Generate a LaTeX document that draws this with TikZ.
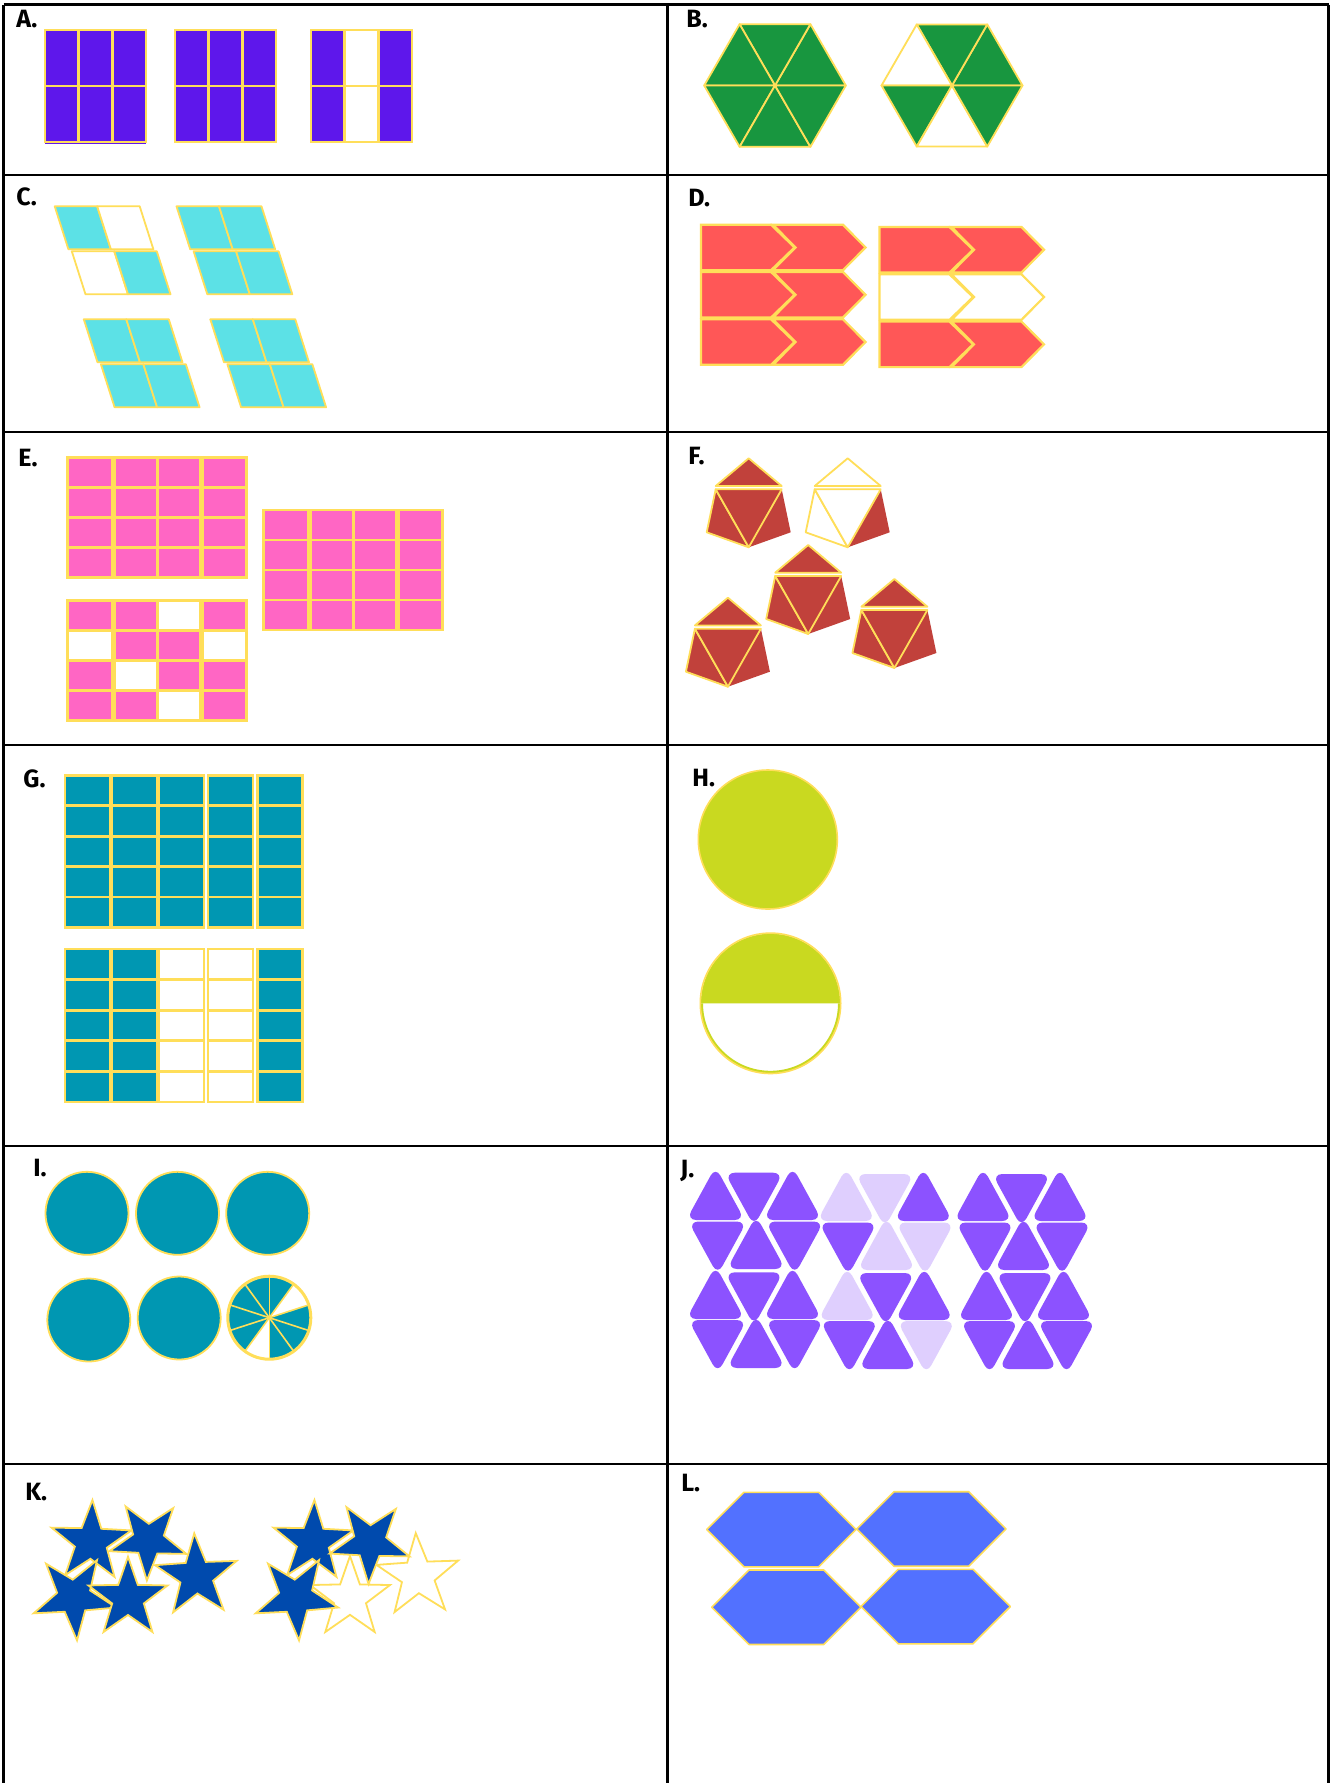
\documentclass[tikz,border=0pt]{standalone}
\usepackage{fontspec}
\setmainfont{Fira Sans}
\definecolor{ylw}{HTML}{FFDE59}
\definecolor{apurple}{HTML}{5E17EB}
\definecolor{bgreen}{HTML}{18963F}
\definecolor{ccyan}{HTML}{5CE1E6}
\definecolor{dred}{HTML}{FF5757}
\definecolor{epink}{HTML}{FF66C4}
\definecolor{fred}{HTML}{C1413B}
\definecolor{gteal}{HTML}{0097B2}
\definecolor{hlime}{HTML}{C9D920}
\definecolor{jpurple}{HTML}{8C52FF}
\definecolor{jlight}{HTML}{DFCFFE}
\definecolor{kblue}{HTML}{004AAD}
\definecolor{lblue}{HTML}{5271FF}
\tikzset{
 gridline/.style={black, line width=1.1pt},
 lab/.style={font=\fontsize{12.5}{13}\selectfont\bfseries, inner sep=0pt, anchor=north west},
 acell/.style={fill=apurple, draw=ylw, line width=1.3pt},
 btri/.style={draw=ylw, line width=0.9pt, line join=round},
 cparst/.style={draw=ylw, line width=0.9pt, line join=round},
 dshape/.style={draw=ylw, line width=1.1pt},
 ecell/.style={fill=epink, draw=ylw, line width=1.4pt},
 fst/.style={draw=ylw, line width=0.9pt, line join=round},
 gcell/.style={fill=gteal, draw=ylw, line width=1.4pt},
 hcirc/.style={fill=hlime, draw=ylw, line width=0.8pt},
 icirc/.style={fill=gteal, draw=ylw, line width=0.9pt},
 jshape/.style={rounded corners=5pt},
 kfill/.style={fill=kblue, draw=ylw, line width=0.9pt},
 kwhite/.style={fill=white, draw=ylw, line width=0.9pt},
 lhex/.style={fill=lblue, draw=ylw, line width=0.8pt, line join=round},
}
\newcommand{\btri}[5]{\draw[btri, fill=#5] (#1,#2) -- ({#1+#3*cos(60*#4)},{#2-#3*sin(60*#4)}) -- ({#1+#3*cos(60*(#4+1))},{#2-#3*sin(60*(#4+1))}) -- cycle;}
\newcommand{\cpar}[3]{\draw[cparst, fill=#3] (#1,#2) -- ++(42.5,0) -- ++(13.7,43) -- ++(-42.5,0) -- cycle;}
\newcommand{\dpent}[3]{\draw[dshape, fill=#3] (#1,#2) -- ++(70,0) -- ++(23.5,22.75) -- ++(-23.5,22.75) -- ++(-70,0) -- cycle;}
\newcommand{\dchev}[3]{\draw[dshape, fill=#3] ({#1+72},#2) -- ++(70,0) -- ++(22.5,22.75) -- ++(-22.5,22.75) -- ++(-70,0) -- ++(22.5,-22.75) -- cycle;}
\newcommand{\fdie}[3]{%
 \fill[fred] ({#1+33},{#2+31}) -- ({#1+42},{#2+74}) -- ({#1},{#2+89}) -- cycle;
 \draw[fst, fill=#3] ({#1-33},{#2+31}) -- ({#1},{#2+89}) -- ({#1-42},{#2+74}) -- cycle;
 \draw[fst, fill=#3] ({#1-33},{#2+31}) -- ({#1+33},{#2+31}) -- ({#1},{#2+89}) -- cycle;
 \draw[fst, fill=#3] ({#1},{#2}) -- ({#1+33},{#2+27.7}) -- ({#1-33},{#2+27.7}) -- cycle;}
\newcommand{\jup}[3]{\fill[jshape, #3] ({#1},{#2}) -- ({#1+29.2},{#2}) -- ({#1},{#2-53.3}) -- ({#1-29.2},{#2}) -- cycle;}
\newcommand{\jdown}[3]{\fill[jshape, #3] ({#1},{#2}) -- ({#1+29.2},{#2}) -- ({#1},{#2+53.3}) -- ({#1-29.2},{#2}) -- cycle;}
\newcommand{\jrowA}[6]{\jup{#1}{#3}{#4}\jdown{#1+38.5}{#2}{#5}\jup{#1+77}{#3}{#6}}
\newcommand{\jrowB}[6]{\jdown{#1}{#2}{#4}\jup{#1+38.5}{#3}{#5}\jdown{#1+77}{#2}{#6}}
\newcommand{\kstar}[5]{\draw[#1] ({#2+#4*cos(#5)},{#3-#4*sin(#5)})
 -- ({#2+0.4*#4*cos(#5+36)},{#3-0.4*#4*sin(#5+36)})
 -- ({#2+#4*cos(#5+72)},{#3-#4*sin(#5+72)})
 -- ({#2+0.4*#4*cos(#5+108)},{#3-0.4*#4*sin(#5+108)})
 -- ({#2+#4*cos(#5+144)},{#3-#4*sin(#5+144)})
 -- ({#2+0.4*#4*cos(#5+180)},{#3-0.4*#4*sin(#5+180)})
 -- ({#2+#4*cos(#5+216)},{#3-#4*sin(#5+216)})
 -- ({#2+0.4*#4*cos(#5+252)},{#3-0.4*#4*sin(#5+252)})
 -- ({#2+#4*cos(#5+288)},{#3-#4*sin(#5+288)})
 -- ({#2+0.4*#4*cos(#5+324)},{#3-0.4*#4*sin(#5+324)})
 -- cycle;}
\newcommand{\lhexa}[2]{\draw[lhex] (#1,{#2+37.25}) -- ({#1+37.25},#2) -- ({#1+112},#2) -- ({#1+149.3},{#2+37.25}) -- ({#1+112},{#2+74.5}) -- ({#1+37.25},{#2+74.5}) -- cycle;}
\begin{document}
\begin{tikzpicture}[x=0.5pt,y=-0.5pt]
\useasboundingbox (0,0) rectangle (1331,1783);
\fill[white] (0,0) rectangle (1331,1783);
% grid
\foreach \yy in {4.5,175,432,745,1146,1464} \draw[gridline] (3.5,\yy) -- (1328.5,\yy);
\foreach \xx in {3.5,667.5,1328.5} \draw[gridline] (\xx,4.5) -- (\xx,1783);
% labels
\node[lab] (labA) at (16,10) {A.};
\node[lab] (labB) at (686,10) {B.};
\node[lab] (labC) at (16,187) {C.};
\node[lab] (labD) at (688,189) {D.};
\node[lab] (labE) at (18,449) {E.};
\node[lab] (labF) at (688,447) {F.};
\node[lab] (labG) at (23,769) {G.};
\node[lab] (labH) at (692,769) {H.};
\node[lab] (labI) at (33,1159) {I.};
\node[lab] (labJ) at (680,1160) {J.};
\node[lab] (labK) at (25,1483) {K.};
\node[lab] (labL) at (681,1474) {L.};
% A
\foreach \gx in {45,175} {\foreach \cc in {0,1,2} {\foreach \r in {0,1} {\draw[acell] ({\gx+\cc*33.67},{30+\r*56}) rectangle ++(33.67,56);}}}
\foreach \cc/\col in {0/apurple,1/white,2/apurple} {\foreach \r in {0,1} {\draw[acell, fill=\col] ({311+\cc*33.67},{30+\r*56}) rectangle ++(33.67,56);}}
\draw[apurple, line width=0.6pt] (45,143.5) -- (146,143.5);
% B
\foreach \k in {0,...,5} {\btri{775}{85.5}{70.8}{\k}{bgreen}}
\foreach \k/\col in {0/bgreen,1/bgreen,2/white,3/bgreen,4/white,5/bgreen} {\btri{952}{85.5}{70.5}{\k}{\col}}
% C
\cpar{54.7}{206.3}{ccyan}
\cpar{97.2}{206.3}{white}
\cpar{71.8}{251.3}{white}
\cpar{114.3}{251.3}{ccyan}
\foreach \gx/\gy in {176.5/206.3, 83.8/319.3, 210.3/319.3} {\foreach \cc in {0,1} {\foreach \r in {0,1} {\cpar{\gx+\cc*42.5+\r*17.1}{\gy+\r*45}{ccyan}}}}
% D
\foreach \r in {0,1,2} {\dpent{701}{224.7+\r*47.3}{dred}\dchev{701}{224.7+\r*47.3}{dred}}
\foreach \r/\col in {0/dred,1/white,2/dred} {\dpent{879.5}{227+\r*47.3}{\col}\dchev{879.5}{227+\r*47.3}{\col}}
% E
\foreach \gx/\gy in {67.5/457.3, 263.7/510} {\foreach \cx/\cw in {0/44.5,47/42.8,89.8/42.7,135.1/44} {\foreach \r in {0,...,3} {\draw[ecell] ({\gx+\cx},{\gy+\r*30}) rectangle ++(\cw,30);}}}
\foreach \r/\fa/\fb/\fc/\fd in {0/epink/epink/white/epink, 1/white/epink/epink/white, 2/epink/white/epink/epink, 3/epink/epink/white/epink} {
 \draw[ecell, fill=\fa] (67.5,{600.7+\r*30}) rectangle ++(44.5,30);
 \draw[ecell, fill=\fb] (114.5,{600.7+\r*30}) rectangle ++(42.8,30);
 \draw[ecell, fill=\fc] (157.3,{600.7+\r*30}) rectangle ++(42.7,30);
 \draw[ecell, fill=\fd] (202.6,{600.7+\r*30}) rectangle ++(44,30);}
% F
\fdie{748.7}{458.3}{fred}
\fdie{847.7}{458.3}{white}
\fdie{808.2}{545}{fred}
\fdie{727.9}{597.7}{fred}
\fdie{894.4}{579}{fred}
% G
\foreach \cx in {65,112,159,208,257.3} {\foreach \r in {0,...,4} {\draw[gcell] (\cx,{775.3+\r*30.4}) rectangle ++(45,30.4);}}
\foreach \cx/\col in {65/gteal,112/gteal,159/white,208/white,257.3/gteal} {\foreach \r in {0,...,4} {\draw[gcell, fill=\col] (\cx,{949+\r*30.6}) rectangle ++(45,30.6);}}
% H
\draw[hcirc] (767.8,839.5) circle[radius=69.5];
\fill[white] (770.5,1003.3) circle[radius=69.6];
\fill[hlime] (700.9,1003.3) arc[start angle=180, end angle=360, radius=69.6] -- cycle;
\draw[hlime, line width=1.3pt] (701.7,1003.3) arc[start angle=180, end angle=0, radius=68.8];
\draw[ylw, line width=0.8pt] (770.5,1003.3) circle[radius=70.2];
% I
\foreach \px/\py in {87/1213.3, 177.5/1213.3, 267.7/1213.3, 88.8/1320, 179.2/1318} {\draw[icirc] (\px,\py) circle[radius=41.5];}
\fill[gteal] (269.3,1317.7) circle[radius=41.5];
\fill[white] (269.3,1317.7) -- ++({41.5*cos(18)},{-41.5*sin(18)}) arc[start angle=-18, end angle=-54, radius=41.5] -- cycle;
\fill[white] (269.3,1317.7) -- ++({41.5*cos(234)},{-41.5*sin(234)}) arc[start angle=-234, end angle=-270, radius=41.5] -- cycle;
\foreach \a in {18,54,...,342} {\draw[ylw, line width=0.8pt] (269.3,1317.7) -- ++({41.5*cos(\a)},{-41.5*sin(\a)});}
\draw[ylw, line width=1.5pt] (269.3,1317.7) circle[radius=41.5];
% J
\jrowA{715.5}{1172.7}{1220}{jpurple}{jpurple}{jpurple}
\jrowB{717.6}{1221.5}{1269}{jpurple}{jpurple}{jpurple}
\jrowA{715.5}{1272.3}{1319}{jpurple}{jpurple}{jpurple}
\jrowB{717.6}{1320}{1368}{jpurple}{jpurple}{jpurple}
\jrowA{846.3}{1174}{1221}{jlight}{jlight}{jpurple}
\jrowB{848}{1222.5}{1270}{jpurple}{jlight}{jlight}
\jrowA{847.2}{1273}{1320}{jlight}{jpurple}{jpurple}
\jrowB{849.3}{1321}{1369}{jpurple}{jpurple}{jlight}
\jrowA{983}{1174}{1221}{jpurple}{jpurple}{jpurple}
\jrowB{985}{1222.5}{1270}{jpurple}{jpurple}{jpurple}
\jrowA{986.5}{1273}{1320}{jpurple}{jpurple}{jpurple}
\jrowB{989.5}{1321}{1369}{jpurple}{jpurple}{jpurple}
% K
\kstar{kfill}{91}{1542}{42}{88}
\kstar{kfill}{148.3}{1540}{40.5}{268}
\kstar{kfill}{196.5}{1576.3}{43}{93}
\kstar{kfill}{74}{1597}{43.5}{274}
\kstar{kfill}{128}{1598.3}{41.6}{90}
\kstar{kwhite}{418}{1576}{43}{93}
\kstar{kwhite}{350}{1598}{42}{90}
\kstar{kfill}{313}{1542}{42}{88}
\kstar{kfill}{370}{1542}{42}{268}
\kstar{kfill}{296}{1597}{43.5}{274}
% L
\lhexa{706.7}{1492.3}
\lhexa{856.7}{1491.7}
\lhexa{711.7}{1570}
\lhexa{861}{1569.3}
\end{tikzpicture}
\end{document}
